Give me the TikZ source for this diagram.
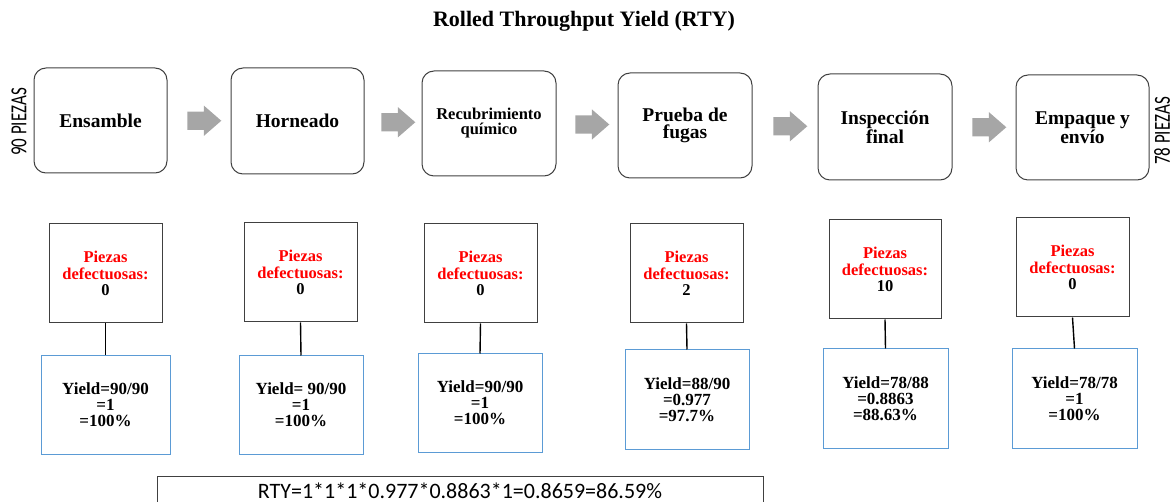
\documentclass[tikz,border=0pt]{standalone}
\usepackage{fontspec}
\usepackage{graphicx}
\setmainfont{Liberation Serif}
\newfontfamily\labelfont{Carlito}
\usetikzlibrary{shapes.arrows,calc}
\definecolor{boxgray}{HTML}{404040}
\definecolor{arrowgray}{HTML}{A6A6A6}
\definecolor{yieldblue}{HTML}{5B9BD5}
\tikzset{
  process/.style={draw=boxgray, line width=1pt, rounded corners=12pt, minimum width=133pt,
    minimum height=105pt, align=center, font=\bfseries\fontsize{19.5}{16.5}\selectfont},
  defect/.style={draw=boxgray, line width=1pt, minimum width=113pt, minimum height=99pt,
    align=center, font=\bfseries\fontsize{16.5}{16.5}\selectfont},
  yieldbox/.style={draw=yieldblue, line width=1pt, minimum width=124pt, minimum height=98pt,
    align=center, font=\bfseries\fontsize{17}{16}\selectfont},
  flow/.style={single arrow, fill=arrowgray, minimum height=34pt, inner xsep=0pt,
    inner ysep=9pt, single arrow head extend=6pt, single arrow tip angle=82},
  link/.style={line width=1.4pt},
  piezas/.style={rotate=90, font=\labelfont\fontsize{17}{17}\selectfont, inner sep=0pt}
}
\begin{document}
\begin{tikzpicture}
   [x=1pt, y=-1pt]
   \useasboundingbox (0,0) rectangle (1175,502);
   \clip (0,0) rectangle (1175,502);

   \node[font=\bfseries\fontsize{22}{22}\selectfont] (titulo) at (584,21) {Rolled Throughput Yield (RTY)};

   \node[piezas] (entrada) at (19,122) {\scalebox{1}[1.35]{90 PIEZAS}};
   \node[piezas] (salida) at (1162,131) {\scalebox{1}[1.35]{78 PIEZAS}};

   \node[process] (ensamble) at (100.5,120.5) {Ensamble};
   \node[process, minimum height=106pt] (horneado) at (297.5,121) {Horneado};
   \node[process, minimum width=134pt, font=\bfseries\fontsize{16.5}{15}\selectfont] (recubrimiento) at (489,123.5) {Recubrimiento\\químico};
   \node[process, minimum width=134pt] (prueba) at (685,125.5) {Prueba de\\fugas};
   \node[process, minimum width=134pt, minimum height=106pt] (inspeccion) at (885,127) {Inspección\\final};
   \node[process] (empaque) at (1082.5,127.5) {Empaque y\\envío};

   \node[flow] (f1) at ($(ensamble.east)!0.5!(horneado.west)$) {};
   \node[flow] (f2) at ($(horneado.east)!0.5!(recubrimiento.west)$) {};
   \node[flow] (f3) at ($(recubrimiento.east)!0.5!(prueba.west)$) {};
   \node[flow] (f4) at ($(prueba.east)!0.5!(inspeccion.west)$) {};
   \node[flow] (f5) at ($(inspeccion.east)!0.5!(empaque.west)$) {};

   \node[defect] (d1) at (105.5,273.5) {\textcolor{red}{Piezas}\\\textcolor{red}{defectuosas:}\\0};
   \node[defect] (d2) at (300.5,272.5) {\textcolor{red}{Piezas}\\\textcolor{red}{defectuosas:}\\0};
   \node[defect] (d3) at (480.5,273.5) {\textcolor{red}{Piezas}\\\textcolor{red}{defectuosas:}\\0};
   \node[defect] (d4) at (686.5,273.5) {\textcolor{red}{Piezas}\\\textcolor{red}{defectuosas:}\\2};
   \node[defect, minimum width=112pt] (d5) at (885,269.5) {\textcolor{red}{Piezas}\\\textcolor{red}{defectuosas:}\\10};
   \node[defect] (d6) at (1072.5,267.5) {\textcolor{red}{Piezas}\\\textcolor{red}{defectuosas:}\\0};

   \node[yieldbox, minimum width=129pt] (y1) at (105.5,405) {Yield=90/90\\=1\\=100\%};
   \node[yieldbox] (y2) at (301,405) {Yield= 90/90\\=1\\=100\%};
   \node[yieldbox] (y3) at (480,403) {Yield=90/90\\=1\\=100\%};
   \node[yieldbox, minimum height=99pt] (y4) at (687,399.5) {Yield=88/90\\=0.977\\=97.7\%};
   \node[yieldbox, minimum width=125pt, minimum height=99pt] (y5) at (885.5,398.5) {Yield=78/88\\=0.8863\\=88.63\%};
   \node[yieldbox, minimum width=125pt, minimum height=99pt] (y6) at (1074.5,398.5) {Yield=78/78\\=1\\=100\%};

   \draw[link] (d1.south) -- (y1.north);
   \draw[link] (d2.south) -- (y2.north);
   \draw[link] (d3.south) -- (y3.north);
   \draw[link] (d4.south) -- (y4.north);
   \draw[link] (d5.south) -- (y5.north);
   \draw[link] (d6.south) -- (y6.north);

   \node[draw=boxgray, line width=1pt, minimum width=606pt, minimum height=30pt, font=\labelfont\fontsize{22}{22}\selectfont] (rty) at (460,491) {RTY=1*1*1*0.977*0.8863*1=0.8659=86.59\%};
\end{tikzpicture}
\end{document}
